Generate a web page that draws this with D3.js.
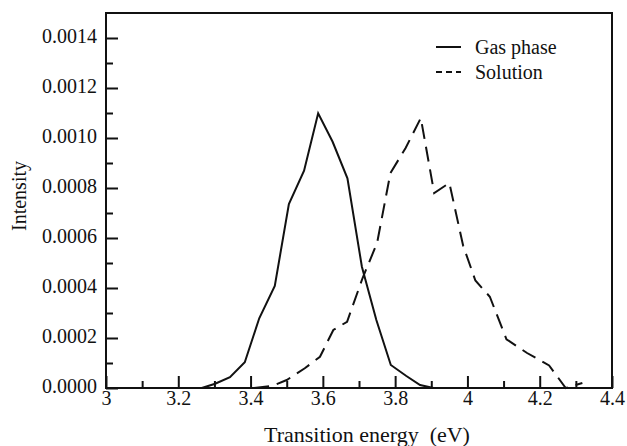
<!DOCTYPE html>
<html lang="en">
<head>
<meta charset="UTF-8">
<script src="https://d3js.org/d3.v7.min.js"></script>
<title>Transition energy</title>
<style>
	body { margin: 0; background: white; }
	svg { display: block; font-family: "Liberation Serif", "Times New Roman", serif; }
	.tick text { font-size: 20px; fill: #111; }
	.lbl { font-size: 20px; fill: #111; }
	.title { font-size: 22px; }
</style>
</head>
<body>
<div id="chart"></div>
<script>
	// ---------------- data ----------------
	const gasEnergy = [3.265, 3.302, 3.343, 3.384, 3.424, 3.467, 3.506, 3.548, 3.587, 3.627, 3.668, 3.708, 3.748, 3.788, 3.831, 3.869, 3.906];
	const gasIntensity = [0, 0.000017, 0.000043, 0.000103, 0.000279, 0.000408, 0.000736, 0.000869, 0.001099, 0.000985, 0.000839, 0.000485, 0.000272, 0.000092, 0.000048, 0.000012, 0];

	const solEnergy = [3.41, 3.46, 3.50, 3.55, 3.592, 3.629, 3.667, 3.71, 3.75, 3.787, 3.829, 3.871, 3.908, 3.95, 3.988, 4.022, 4.062, 4.108, 4.165, 4.226, 4.272, 4.318];
	const solIntensity = [0, 0.000008, 0.000032, 0.000079, 0.000125, 0.000232, 0.000265, 0.00044, 0.00058, 0.00086, 0.00096, 0.00108, 0.00078, 0.00082, 0.00057, 0.00043, 0.000365, 0.000195, 0.00014, 0.00009, 0, 0.00002];

	const xTicks = [3, 3.2, 3.4, 3.6, 3.8, 4, 4.2, 4.4];
	const xTickLabels = ["3", "3.2", "3.4", "3.6", "3.8", "4", "4.2", "4.4"];
	const xMinor = [3.1, 3.3, 3.5, 3.7, 3.9, 4.1, 4.3];
	const yTicks = [0, 0.0002, 0.0004, 0.0006, 0.0008, 0.0010, 0.0012, 0.0014];
	const yMinor = [0.0001, 0.0003, 0.0005, 0.0007, 0.0009, 0.0011, 0.0013];

	const seriesNames = ["Gas phase", "Solution"];

	// ---------------- layout ----------------
	const W = 627, H = 446;
	const plot = { left: 106, right: 612, top: 13, bottom: 388 };

	const x = d3.scaleLinear().domain([3, 4.4]).range([plot.left, plot.right]);
	const y = d3.scaleLinear().domain([0, 0.0015]).range([plot.bottom, plot.top]);

	const svg = d3.select("#chart").append("svg")
		.attr("width", W)
		.attr("height", H);

	// strip d3's default axis font so the css serif applies
	function tidy(g) {
		g.select(".domain").remove();
		g.attr("font-family", null).attr("font-size", null);
		g.selectAll("line").attr("stroke", "#111").attr("stroke-width", 2);
	}

	// minor ticks
	svg.append("g")
		.attr("transform", `translate(0,${plot.bottom})`)
		.call(d3.axisBottom(x).tickValues(xMinor).tickSize(-7).tickFormat(""))
		.call(tidy);

	svg.append("g")
		.attr("transform", `translate(${plot.left},0)`)
		.call(d3.axisLeft(y).tickValues(yMinor).tickSize(-7).tickFormat(""))
		.call(tidy);

	// major ticks + labels
	svg.append("g")
		.attr("transform", `translate(0,${plot.bottom})`)
		.call(d3.axisBottom(x).tickValues(xTicks).tickSize(-12).tickPadding(3)
			.tickFormat((d, i) => xTickLabels[i]))
		.call(tidy);

	svg.append("g")
		.attr("transform", `translate(${plot.left},0)`)
		.call(d3.axisLeft(y).tickValues(yTicks).tickSize(-12).tickPadding(9)
			.tickFormat(d3.format(".4f")))
		.call(tidy)
		.call(g => g.selectAll("text").attr("dy", "0.22em"));

	// frame
	svg.append("rect")
		.attr("x", plot.left)
		.attr("y", plot.top)
		.attr("width", plot.right - plot.left)
		.attr("height", plot.bottom - plot.top)
		.attr("fill", "none")
		.attr("stroke", "#111")
		.attr("stroke-width", 2);

	// lines
	const line = d3.line()
		.x(d => x(d[0]))
		.y(d => y(d[1]));

	const gas = d3.zip(gasEnergy, gasIntensity);
	const sol = d3.zip(solEnergy, solIntensity);

	svg.append("path")
		.datum(gas)
		.attr("d", line)
		.attr("fill", "none")
		.attr("stroke", "#111")
		.attr("stroke-width", 2);

	svg.append("path")
		.datum(sol)
		.attr("d", line)
		.attr("fill", "none")
		.attr("stroke", "#111")
		.attr("stroke-width", 2)
		.attr("stroke-dasharray", "15,8");

	// legend
	const legend = svg.append("g");
	const dashes = [null, "6,4"];
	seriesNames.forEach((name, i) => {
		const ly = 47 + i * 25;
		legend.append("line")
			.attr("x1", 436).attr("x2", 461)
			.attr("y1", ly).attr("y2", ly)
			.attr("stroke", "#111")
			.attr("stroke-width", 2)
			.attr("stroke-dasharray", dashes[i]);
		legend.append("text")
			.attr("class", "lbl")
			.attr("x", 475)
			.attr("y", ly + 6.5)
			.text(name);
	});

	// axis titles
	svg.append("text")
		.attr("class", "lbl title")
		.attr("x", 367)
		.attr("y", 442)
		.attr("text-anchor", "middle")
		.text("Transition energy \u00a0(eV)");

	svg.append("text")
		.attr("class", "lbl")
		.attr("transform", "translate(26,196) rotate(-90)")
		.attr("text-anchor", "middle")
		.text("Intensity");
</script>
</body>
</html>
